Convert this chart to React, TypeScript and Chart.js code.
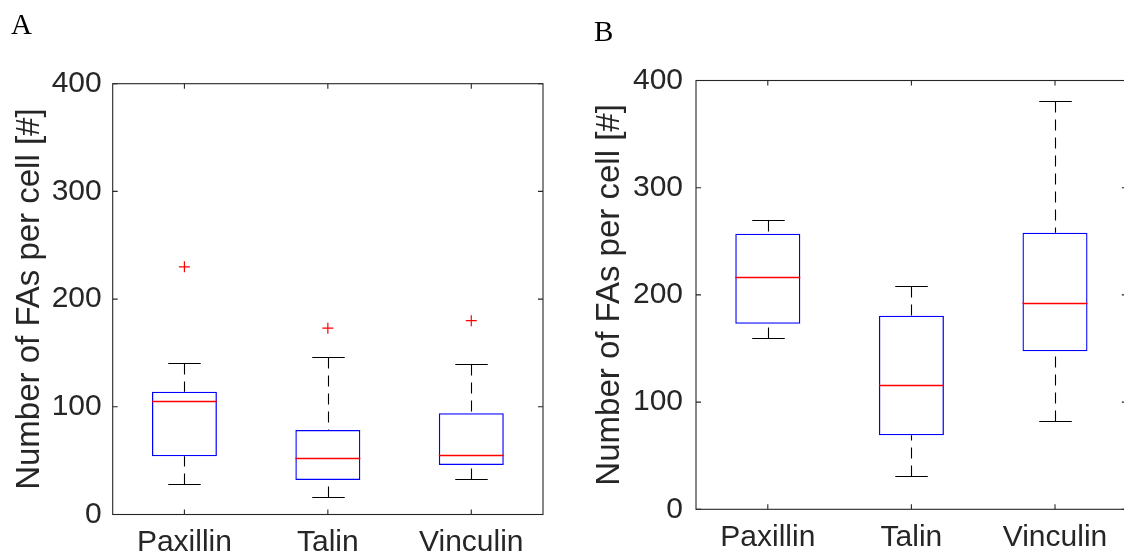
import React, { useEffect, useRef } from "react";
import { Chart, registerables } from "chart.js";

Chart.register(...registerables);

// ---------- data ----------
const categories = ["Paxillin", "Talin", "Vinculin"];
const yTickValues = [0, 100, 200, 300, 400];

// Panel A
const aLowWhisker = [28, 16, 33];
const aQ1 = [54, 32, 46];
const aMedian = [105, 52, 55];
const aQ3 = [114, 78.5, 94];
const aHighWhisker = [141, 146, 140];
const aOutliers = [230, 173, 180];

// Panel B
const bLowWhisker = [160, 31, 82];
const bQ1 = [173, 69, 147.5];
const bMedian = [216.5, 116, 192];
const bQ3 = [257, 180.5, 258];
const bHighWhisker = [270, 208, 381];

const yLabel = "Number of FAs per cell [#]";
const AXIS_COLOR = "#262626";
const FONT = "'Liberation Sans', Arial, Helvetica, sans-serif";

const snap = (v: number) => Math.round(v) + 0.5;

const boxPlugin = {
  id: "matlabBox",
  afterDatasetsDraw(chart: any, _args: any, opts: any) {
    const { ctx, chartArea: a, scales } = chart;
    const x = scales.x;
    const y = scales.y;
    const meta = chart.getDatasetMeta(0);
    ctx.save();
    ctx.lineWidth = 1;
    // whiskers + caps
    for (let i = 0; i < opts.median.length; i++) {
      const el = meta.data[i];
      const cx = snap(x.getPixelForValue(i));
      const half = el.width / 2;
      const capHalf = half / 2;
      const yh = snap(y.getPixelForValue(opts.high[i]));
      const yl = snap(y.getPixelForValue(opts.low[i]));
      ctx.strokeStyle = "#000000";
      ctx.lineWidth = 1.1;
      ctx.setLineDash([11, 7]);
      ctx.beginPath();
      ctx.moveTo(cx, yh);
      ctx.lineTo(cx, y.getPixelForValue(opts.q3[i]));
      ctx.moveTo(cx, yl);
      ctx.lineTo(cx, y.getPixelForValue(opts.q1[i]));
      ctx.stroke();
      ctx.setLineDash([]);
      ctx.beginPath();
      ctx.moveTo(cx - capHalf, yh);
      ctx.lineTo(cx + capHalf, yh);
      ctx.moveTo(cx - capHalf, yl);
      ctx.lineTo(cx + capHalf, yl);
      ctx.stroke();
    }
    // frame
    ctx.setLineDash([]);
    ctx.strokeStyle = AXIS_COLOR;
    ctx.lineWidth = 1.1;
    ctx.strokeRect(a.left, a.top, a.right - a.left, a.bottom - a.top);
    // inward ticks
    const tl = 5;
    ctx.beginPath();
    y.ticks.forEach((t: any) => {
      const py = y.getPixelForValue(t.value);
      ctx.moveTo(a.left, py);
      ctx.lineTo(a.left + tl, py);
      ctx.moveTo(a.right, py);
      ctx.lineTo(a.right - tl, py);
    });
    x.ticks.forEach((_t: any, i: number) => {
      const px = x.getPixelForValue(i);
      ctx.moveTo(px, a.bottom);
      ctx.lineTo(px, a.bottom - tl);
      ctx.moveTo(px, a.top);
      ctx.lineTo(px, a.top + tl);
    });
    ctx.stroke();
    // medians (red), drawn last
    for (let i = 0; i < opts.median.length; i++) {
      const el = meta.data[i];
      const cx = x.getPixelForValue(i);
      const half = el.width / 2;
      const ym = snap(y.getPixelForValue(opts.median[i]));
      ctx.strokeStyle = "#ff0000";
      ctx.lineWidth = 1.3;
      ctx.beginPath();
      ctx.moveTo(cx - half, ym);
      ctx.lineTo(cx + half, ym);
      ctx.stroke();
    }
    ctx.restore();
  },
};

function makeConfig(
  q1: number[],
  q3: number[],
  median: number[],
  low: number[],
  high: number[],
  outliers: number[] | null,
  geo: {
    yWidth: number;
    xHeight: number;
    padTop: number;
    padRight: number;
    tickPad: number;
    titlePad: number;
  }
): any {
  const datasets: any[] = [
    {
      type: "bar",
      data: categories.map((_c, i) => [q1[i], q3[i]]),
      backgroundColor: "rgba(0,0,0,0)",
      borderColor: "#0000ff",
      borderWidth: 1.3,
      borderSkipped: false,
      categoryPercentage: 1,
      barPercentage: 0.453,
      order: 2,
    },
  ];
  if (outliers) {
    datasets.push({
      type: "line",
      data: outliers,
      showLine: false,
      pointStyle: "cross",
      pointRadius: 5.5,
      pointBorderWidth: 1.2,
      borderColor: "#ff0000",
      backgroundColor: "#ff0000",
      order: 1,
    });
  }
  return {
    type: "bar",
    data: { labels: categories, datasets },
    plugins: [boxPlugin],
    options: {
      animation: false,
      responsive: true,
      maintainAspectRatio: false,
      events: [],
      layout: {
        padding: { left: 0, right: geo.padRight, top: geo.padTop, bottom: 0 },
      },
      plugins: {
        legend: { display: false },
        tooltip: { enabled: false },
        matlabBox: { q1, q3, median, low, high },
      },
      scales: {
        x: {
          type: "category",
          offset: true,
          grid: { display: false, drawTicks: false },
          border: { display: false },
          ticks: {
            padding: 10,
            color: AXIS_COLOR,
            font: { family: FONT, size: 30 },
            maxRotation: 0,
          },
          afterFit: (s: any) => {
            s.height = geo.xHeight;
          },
        },
        y: {
          min: 0,
          max: 400,
          afterBuildTicks: (s: any) => {
            s.ticks = yTickValues.map((v) => ({ value: v }));
          },
          grid: { display: false, drawTicks: false },
          border: { display: false },
          ticks: {
            padding: geo.tickPad,
            color: AXIS_COLOR,
            font: { family: FONT, size: 30 },
          },
          title: {
            display: true,
            text: yLabel,
            color: AXIS_COLOR,
            font: { family: FONT, size: 33 },
            padding: { top: geo.titlePad, bottom: 0 },
          },
          afterFit: (s: any) => {
            s.width = geo.yWidth;
          },
        },
      },
    },
  };
}

export default function App() {
  const refA = useRef<HTMLCanvasElement>(null);
  const refB = useRef<HTMLCanvasElement>(null);

  useEffect(() => {
    const chartA = new Chart(
      refA.current as HTMLCanvasElement,
      makeConfig(aQ1, aQ3, aMedian, aLowWhisker, aHighWhisker, aOutliers, {
        yWidth: 112.7,
        xHeight: 44.5,
        padTop: 83.7,
        padRight: 17,
        tickPad: 11,
        titlePad: 9.7,
      })
    );
    const chartB = new Chart(
      refB.current as HTMLCanvasElement,
      makeConfig(bQ1, bQ3, bMedian, bLowWhisker, bHighWhisker, null, {
        yWidth: 136,
        xHeight: 49.7,
        padTop: 80.5,
        padRight: 13.2,
        tickPad: 13,
        titlePad: 29.7,
      })
    );
    return () => {
      chartA.destroy();
      chartB.destroy();
    };
  }, []);

  const letterStyle: React.CSSProperties = {
    position: "absolute",
    fontFamily: "'Liberation Serif', 'Times New Roman', serif",
    fontSize: 29,
    lineHeight: "29px",
    color: "#000",
  };

  return (
    <div
      style={{
        position: "fixed",
        left: 0,
        top: 0,
        width: 1124,
        height: 559,
        overflow: "hidden",
        background: "#fff",
      }}
    >
      <div style={{ position: "absolute", left: 0, top: 0, width: 560, height: 559 }}>
        <canvas ref={refA} />
      </div>
      <div style={{ position: "absolute", left: 560, top: 0, width: 580, height: 559 }}>
        <canvas ref={refB} />
      </div>
      <div style={{ ...letterStyle, left: 11, top: 10 }}>A</div>
      <div style={{ ...letterStyle, left: 594, top: 17 }}>B</div>
    </div>
  );
}
